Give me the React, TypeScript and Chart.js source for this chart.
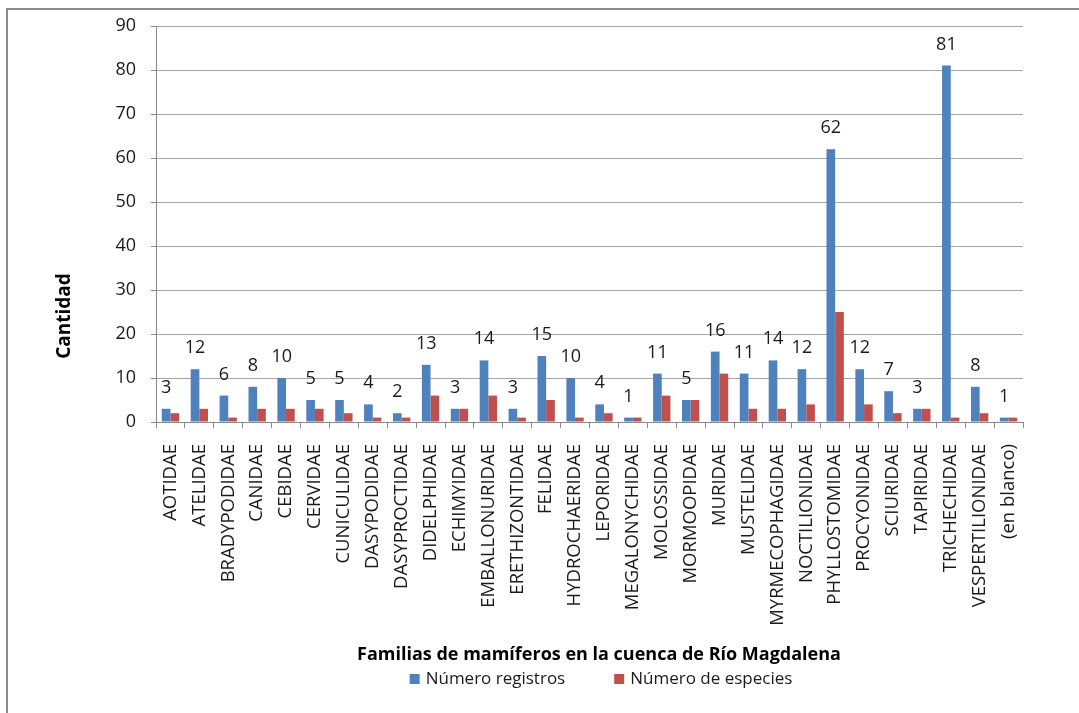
import React, { useEffect, useRef } from "react";
import { Chart, registerables } from "chart.js";

Chart.register(...registerables);

// Familias de mamíferos registradas en la cuenca del Río Magdalena
const families = [
  "AOTIDAE", "ATELIDAE", "BRADYPODIDAE", "CANIDAE", "CEBIDAE", "CERVIDAE",
  "CUNICULIDAE", "DASYPODIDAE", "DASYPROCTIDAE", "DIDELPHIDAE", "ECHIMYIDAE",
  "EMBALLONURIDAE", "ERETHIZONTIDAE", "FELIDAE", "HYDROCHAERIDAE", "LEPORIDAE",
  "MEGALONYCHIDAE", "MOLOSSIDAE", "MORMOOPIDAE", "MURIDAE", "MUSTELIDAE",
  "MYRMECOPHAGIDAE", "NOCTILIONIDAE", "PHYLLOSTOMIDAE", "PROCYONIDAE",
  "SCIURIDAE", "TAPIRIDAE", "TRICHECHIDAE", "VESPERTILIONIDAE", "(en blanco)",
];

const registros = [
  3, 12, 6, 8, 10, 5, 5, 4, 2, 13, 3, 14, 3, 15, 10, 4, 1, 11, 5, 16, 11, 14,
  12, 62, 12, 7, 3, 81, 8, 1,
];

const especies = [
  2, 3, 1, 3, 3, 3, 2, 1, 1, 6, 3, 6, 1, 5, 1, 2, 1, 6, 5, 11, 3, 3, 4, 25, 4,
  2, 3, 1, 2, 1,
];

const yTicks = [0, 10, 20, 30, 40, 50, 60, 70, 80, 90];

const seriesNames = ["Número registros", "Número de especies"];
const seriesColors = ["#4f81bd", "#c0504d"];
const yTitle = "Cantidad";
const xTitle = "Familias de mamíferos en la cuenca de Río Magdalena";

const FONT = '"Open Sans", "Noto Sans", sans-serif';
const TEXT = "#1a1a1a";
const GRID = "#a6a6a6";
const AXIS = "#8a8a8a";

// Value labels drawn above the "Número registros" bars
const valueLabels = {
  id: "valueLabels",
  afterDatasetsDraw(chart: any) {
    const meta = chart.getDatasetMeta(0);
    const values = chart.data.datasets[0].data as number[];
    const ctx = chart.ctx as CanvasRenderingContext2D;
    ctx.save();
    ctx.font = `18px ${FONT}`;
    ctx.fillStyle = TEXT;
    ctx.textAlign = "center";
    ctx.textBaseline = "alphabetic";
    meta.data.forEach((bar: any, i: number) => {
      ctx.fillText(String(values[i]), bar.x, bar.y - 16);
    });
    ctx.restore();
  },
};

// Axis titles: vertical one left of the y axis, horizontal one under the category labels
const axisTitles = {
  id: "axisTitles",
  afterDraw(chart: any) {
    const ctx = chart.ctx as CanvasRenderingContext2D;
    ctx.save();
    ctx.fillStyle = "#000";
    ctx.textAlign = "center";
    ctx.textBaseline = "middle";

    ctx.font = `bold 18px ${FONT}`;
    ctx.fillText(xTitle, 599, 655);

    ctx.translate(65, 316);
    ctx.rotate(-Math.PI / 2);
    ctx.font = `bold 19px ${FONT}`;
    ctx.fillText(yTitle, 0, 0);
    ctx.restore();
  },
};

// Legend row under the x-axis title
const bottomLegend = {
  id: "bottomLegend",
  afterDraw(chart: any) {
    const ctx = chart.ctx as CanvasRenderingContext2D;
    const ds = chart.data.datasets;
    const box = 10;
    const gapText = 6;
    const gapItems = 49;
    const cy = 679;
    const cx = 601;
    ctx.save();
    ctx.font = `17px ${FONT}`;
    const widths = ds.map((d: any) => ctx.measureText(d.label).width);
    const total =
      widths.reduce((a: number, w: number) => a + w + box + gapText, 0) +
      gapItems * (ds.length - 1);
    let x = cx - total / 2;
    ctx.textBaseline = "middle";
    ctx.textAlign = "left";
    ds.forEach((d: any, i: number) => {
      ctx.fillStyle = d.backgroundColor;
      ctx.fillRect(x, cy - box / 2, box, box);
      x += box + gapText;
      ctx.fillStyle = TEXT;
      ctx.fillText(d.label, x, cy);
      x += widths[i] + gapItems;
    });
    ctx.restore();
  },
};

export default function App() {
  const canvasRef = useRef<HTMLCanvasElement | null>(null);

  useEffect(() => {
    if (!canvasRef.current) return;
    const chart = new Chart(canvasRef.current, {
      type: "bar",
      data: {
        labels: families,
        datasets: [
          {
            label: seriesNames[0],
            data: registros,
            backgroundColor: seriesColors[0],
            categoryPercentage: 0.6,
            barPercentage: 1.0,
          },
          {
            label: seriesNames[1],
            data: especies,
            backgroundColor: seriesColors[1],
            categoryPercentage: 0.6,
            barPercentage: 1.0,
          },
        ],
      },
      options: {
        animation: false,
        responsive: false,
        events: [],
        layout: { padding: { top: 26, right: 56, bottom: 0, left: 0 } },
        plugins: {
          legend: { display: false },
          tooltip: { enabled: false },
        },
        scales: {
          x: {
            offset: true,
            grid: {
              display: true,
              drawOnChartArea: false,
              drawTicks: true,
              tickLength: 6,
              color: AXIS,
              offset: true,
            },
            border: { display: true, color: AXIS },
            ticks: {
              autoSkip: false,
              minRotation: 90,
              maxRotation: 90,
              padding: 16,
              color: TEXT,
              font: { family: FONT, size: 18.5 },
            },
            title: { display: false },
            afterFit: (s: any) => {
              s.height = 291;
            },
          },
          y: {
            min: 0,
            max: 90,
            afterBuildTicks: (s: any) => {
              s.ticks = yTicks.map((v) => ({ value: v }));
            },
            grid: {
              color: GRID,
              lineWidth: 1,
              drawTicks: true,
              tickLength: 5,
              tickColor: AXIS,
            },
            border: { display: true, color: AXIS },
            ticks: {
              padding: 15,
              color: TEXT,
              font: { family: FONT, size: 18 },
            },
            title: { display: false },
            afterFit: (s: any) => {
              s.width = 156;
            },
          },
        },
      },
      plugins: [valueLabels, axisTitles, bottomLegend],
    });
    return () => chart.destroy();
  }, []);

  return (
    <div
      style={{
        position: "fixed",
        left: 0,
        top: 0,
        width: 1079,
        height: 713,
        background: "#fff",
        overflow: "hidden",
      }}
    >
      <div
        style={{
          position: "absolute",
          left: 6,
          top: 8,
          width: 1100,
          height: 720,
          borderLeft: "2px solid #8c8c8c",
          borderTop: "2px solid #8c8c8c",
        }}
      />
      <canvas
        ref={canvasRef}
        width={1079}
        height={713}
        style={{ position: "absolute", left: 0, top: 0, display: "block" }}
      />
    </div>
  );
}
